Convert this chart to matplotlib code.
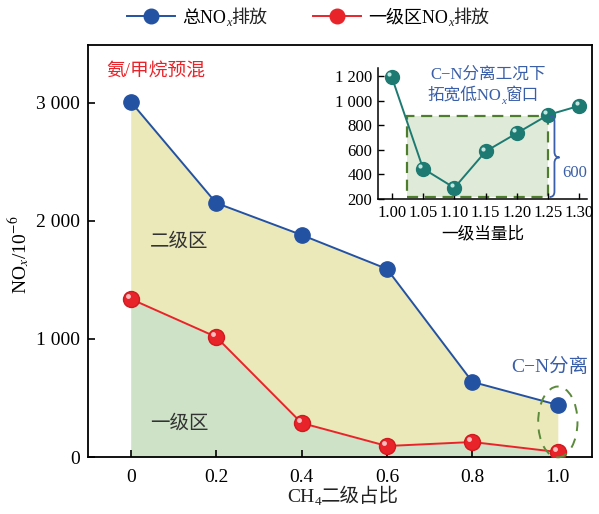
"""
NOx emission vs CH4 secondary-stage share, with inset of primary-zone equivalence ratio
"""
import matplotlib
matplotlib.use('Agg')
import matplotlib.pyplot as plt
from matplotlib.patches import Ellipse, Rectangle, PathPatch
from matplotlib.path import Path
from matplotlib.lines import Line2D
from matplotlib.text import Annotation
from matplotlib import transforms

plt.rcParams['font.family'] = ['Liberation Serif', 'Noto Sans CJK SC']
plt.rcParams['mathtext.fontset'] = 'stix'

# main chart data
ch4_share = [0, 0.2, 0.4, 0.6, 0.8, 1.0]
total_nox = [3010, 2152, 1881, 1593, 636, 441]
stage1_nox = [1339, 1017, 288, 93, 127, 42]
x_ticks = [0, 0.2, 0.4, 0.6, 0.8, 1.0]
x_ticklabels = ['0', '0.2', '0.4', '0.6', '0.8', '1.0']
y_ticks = [0, 1000, 2000, 3000]
y_ticklabels = ['0', '1 000', '2 000', '3 000']

# inset data
phi = [1.00, 1.05, 1.10, 1.15, 1.20, 1.25, 1.30]
phi_nox = [1195, 448, 291, 588, 737, 886, 960]
phi_ticks = [1.00, 1.05, 1.10, 1.15, 1.20, 1.25, 1.30]
phi_ticklabels = ['1.00', '1.05', '1.10', '1.15', '1.20', '1.25', '1.30']
inset_yticks = [200, 400, 600, 800, 1000, 1200]
inset_yticklabels = ['200', '400', '600', '800', '1 000', '1 200']
window_x = [1.024, 1.25]
window_y = [216, 878]

BLUE = '#2452a2'
RED = '#e8242a'
TEAL = '#1d7a72'
TXT_BLUE = '#3a5fa8'
DASH_GREEN = '#5a8a3a'
DESC = 0.22


def rich(container, first, parts, fs, color):
    """chain text pieces after the Text `first`; parts = [(text, kind)]"""
    prev, prev_size, prev_shift = first, fs, 0.0
    for txt, kind in parts:
        style = 'normal'
        if kind == 'n':
            size, shift = fs, 0.0
        elif kind == 'subi':
            size, shift, style = fs * 0.68, -0.2 * fs, 'italic'
        else:
            size, shift = fs * 0.68, -0.2 * fs
        dy = (shift - prev_shift) - DESC * (size - prev_size)
        a = Annotation(txt, xy=(1, 0), xycoords=prev, xytext=(0, dy),
                       textcoords='offset points', fontsize=size, color=color,
                       va='bottom', ha='left', fontstyle=style, annotation_clip=False)
        a.set_clip_on(False)
        a.set_zorder(10)
        container.add_artist(a)
        prev, prev_size, prev_shift = a, size, shift
    return prev


fig = plt.figure(figsize=(5.99, 5.14), dpi=100)
ax = fig.add_axes([88 / 599, 57 / 514, 504 / 599, 412 / 514])

# filled zones
ax.fill_between(ch4_share, stage1_nox, total_nox, color='#ebe8ba', lw=0, zorder=1)
ax.fill_between(ch4_share, 0, stage1_nox, color='#cde2c6', lw=0, zorder=1)

ax.plot(ch4_share, total_nox, color=BLUE, lw=1.4, marker='o', ms=11,
        mfc=BLUE, mec=BLUE, zorder=3)
ax.plot(ch4_share, stage1_nox, color=RED, lw=1.4, marker='o', ms=11.5,
        mfc=RED, mec='#d01a20', zorder=3)
hl = transforms.offset_copy(ax.transData, fig=fig, x=-2.2, y=2.2, units='points')
ax.plot(ch4_share, stage1_nox, ls='none', marker='o', ms=3.5, mfc='#ffd0d0',
        mec='none', alpha=0.9, transform=hl, zorder=4)

ax.set_xlim(-0.1, 1.08)
ax.set_ylim(0, 3490)
ax.set_xticks(x_ticks)
ax.set_xticklabels(x_ticklabels)
ax.set_yticks(y_ticks)
ax.set_yticklabels(y_ticklabels)
ax.tick_params(direction='in', labelsize=14, length=5, width=1.2, pad=6)
ax.tick_params(axis='x', pad=9)
for s in ax.spines.values():
    s.set_linewidth(1.3)

ax.set_ylabel('NO$_x$/10$^{-6}$', fontsize=14, labelpad=4)
ax.yaxis.set_label_coords(-0.112, 0.49)

xl = ax.text(0.366, -0.118, 'CH', transform=ax.get_xaxis_transform(),
             fontsize=14, color='#222222', va='bottom', clip_on=False)
rich(ax, xl, [('4', 'sub'), ('二级占比', 'n')], 14, '#222222')

ax.text(-0.058, 3263, '氨/甲烷预混', fontsize=13.5, color=RED, va='center')
ax.text(0.045, 1822, '二级区', fontsize=14, color='#333333', va='center')
ax.text(0.045, 280, '一级区', fontsize=14, color='#333333', va='center')
ax.text(0.89, 763, 'C−N分离', fontsize=14, color=TXT_BLUE, va='center')

ax.add_patch(Ellipse((1.0, 297), 0.092, 600, fill=False, ec=DASH_GREEN,
                     lw=1.4, ls=(0, (5, 4)), zorder=5, clip_on=False))

# legend
for lab_x, col, lab, tail in [(127, BLUE, '总NO', '排放'), (313, RED, '一级区NO', '排放')]:
    h = Line2D([], [], color=col, lw=1.4, marker='o', ms=10.5, mfc=col, mec=col)
    leg = fig.legend([h], [lab], loc='center left', bbox_to_anchor=(lab_x / 599, 1 - 18 / 514),
                     frameon=False, fontsize=13, handlelength=2.65, handletextpad=0.4,
                     borderpad=0, borderaxespad=0)
    t0 = leg.get_texts()[0]
    rich(fig, t0, [('x', 'subi'), (tail, 'n')], 13, '#222222')

# inset
ins = fig.add_axes([378 / 599, 1 - 199 / 514, 209 / 599, 131 / 514])
ins.set_facecolor('none')
ins.add_patch(Rectangle((window_x[0], window_y[0]), window_x[1] - window_x[0],
                        window_y[1] - window_y[0], fc='#dfebd8', ec='#4e7d2e',
                        lw=1.6, ls=(0, (5, 3)), zorder=1))
ins.plot(phi, phi_nox, color=TEAL, lw=1.4, marker='o', ms=10, mfc=TEAL, mec=TEAL,
         zorder=3, clip_on=False)
hl2 = transforms.offset_copy(ins.transData, fig=fig, x=-2, y=2, units='points')
ins.plot(phi, phi_nox, ls='none', marker='o', ms=3, mfc='#bfe6e0', mec='none',
         transform=hl2, zorder=4, clip_on=False)

ins.set_xlim(0.978, 1.312)
ins.set_ylim(200, 1268)
ins.set_xticks(phi_ticks)
ins.set_xticklabels(phi_ticklabels)
ins.set_yticks(inset_yticks)
ins.set_yticklabels(inset_yticklabels)
ins.spines['top'].set_visible(False)
ins.spines['right'].set_visible(False)
for s in ['left', 'bottom']:
    ins.spines[s].set_linewidth(1.1)
ins.tick_params(direction='in', labelsize=12, length=4, width=1.0, pad=4)
ins.set_xlabel('一级当量比', fontsize=12, labelpad=4)

# brace next to the window
bx0, bw = 1.252, 0.016
ym = 539
q = 45
brace = Path([(bx0, window_y[0]), (bx0 + bw / 2, window_y[0]), (bx0 + bw / 2, window_y[0] + q),
              (bx0 + bw / 2, ym - q), (bx0 + bw / 2, ym), (bx0 + bw, ym),
              (bx0 + bw / 2, ym), (bx0 + bw / 2, ym + q),
              (bx0 + bw / 2, window_y[1] - q), (bx0 + bw / 2, window_y[1]), (bx0, window_y[1])],
             [Path.MOVETO, Path.CURVE3, Path.CURVE3, Path.LINETO, Path.CURVE3, Path.CURVE3,
              Path.CURVE3, Path.CURVE3, Path.LINETO, Path.CURVE3, Path.CURVE3])
ins.add_patch(PathPatch(brace, fill=False, ec=TXT_BLUE, lw=1.3, clip_on=False, zorder=5))
ins.text(1.272, 415, '600', fontsize=12, color=TXT_BLUE, va='center', clip_on=False)

ins.text(1.061, 1217, 'C−N分离工况下', fontsize=12, color=TXT_BLUE, va='center')
t2 = ins.text(1.057, 1035 - 60, '拓宽低NO', fontsize=12, color=TXT_BLUE, va='bottom')
rich(ins, t2, [('x', 'subi'), ('窗口', 'n')], 12, TXT_BLUE)

plt.savefig('out.png', dpi=100)
